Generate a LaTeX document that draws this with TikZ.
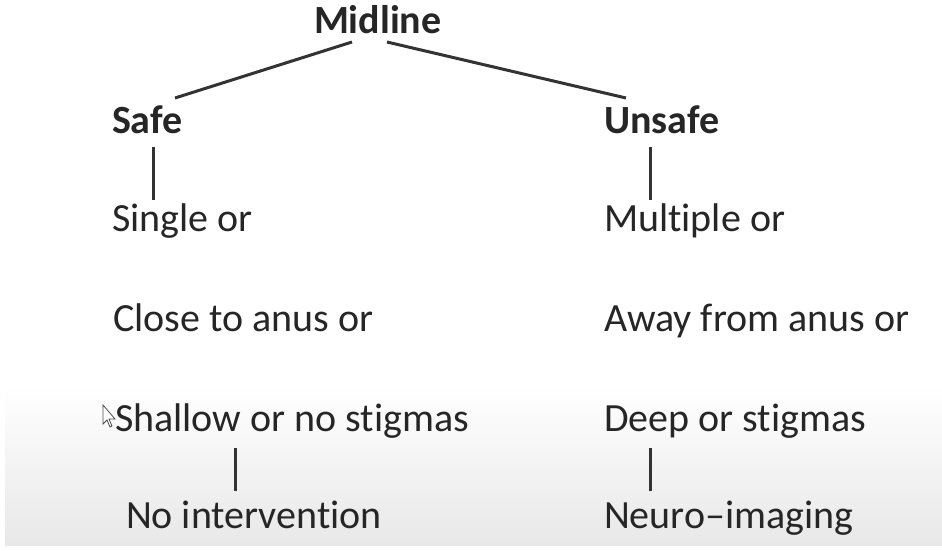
\documentclass[tikz,border=0pt]{standalone}
\usepackage{fontspec}
\setmainfont{Carlito}[Ligatures=NoCommon]
\usetikzlibrary{calc}
\begin{document}
\begin{tikzpicture}[x=1pt,y=-1pt,
  txt/.style={anchor=base west,inner sep=0pt,outer sep=0pt,text=black!85,font=\fontsize{40}{48}\selectfont},
  btxt/.style={txt,font=\fontsize{40}{48}\selectfont\bfseries},
  conn/.style={draw=black!80,line width=3pt}]
\useasboundingbox (0,0) rectangle (942,550);
\fill[white] (0,0) rectangle (942,550);
\shade[top color=white,bottom color=black!9] (5,385) rectangle (942,545);
% cursor
\draw[black!70,fill=white,line width=0.8pt] (103,405) -- (103,424) -- (107,420) -- (110,427) -- (112,426) -- (109,419) -- (115,419) -- cycle;
\node[btxt] (mid) at (314,33) {Midline};
\node[btxt] (safe) at (112,133) {Safe};
\node[btxt] (unsafe) at (604,133) {Unsafe};
\node[txt] (single) at (112,231) {Single or};
\node[txt] (multiple) at (604,231) {Multiple or};
\node[txt] (close) at (113,331) {Close to anus or};
\node[txt] (away) at (604,331) {Away from anus or};
\node[txt] (shallow) at (115,431) {Shallow or no stigmas};
\node[txt] (deep) at (604,431) {Deep or stigmas};
\node[txt] (noint) at (126,528) {No intervention};
\node[txt] (neuro) at (604,528) {Neuro–imaging};
\draw[conn] ($(mid.base west)+(38,9)$) -- ($(safe.base west)+(63,-35)$);
\draw[conn] ($(mid.base west)+(73,9)$) -- ($(unsafe.base west)+(22,-35)$);
\draw[conn] ($(safe.base west)+(41,14)$) -- ($(single.base west)+(41,-31)$);
\draw[conn] ($(unsafe.base west)+(46,14)$) -- ($(multiple.base west)+(46,-31)$);
\draw[conn] ($(shallow.base west)+(120,17)$) -- ($(noint.base west)+(109,-37)$);
\draw[conn] ($(deep.base west)+(46,17)$) -- ($(neuro.base west)+(46,-37)$);
\end{tikzpicture}
\end{document}
